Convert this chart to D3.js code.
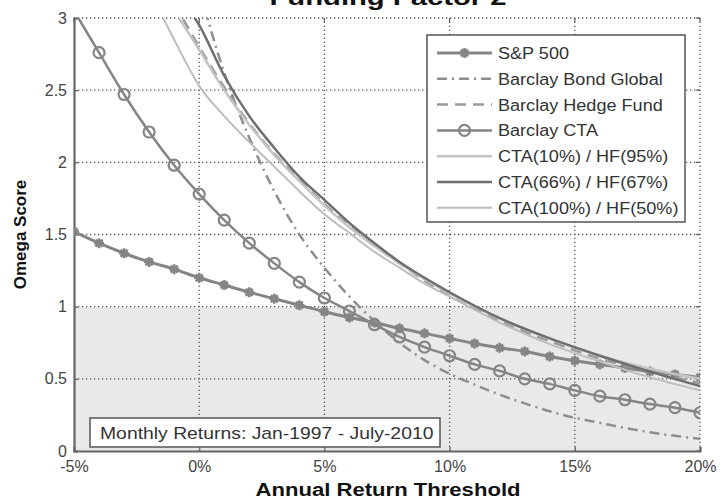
<!DOCTYPE html>
<html>
<head>
<meta charset="utf-8">
<script src="https://d3js.org/d3.v7.min.js"></script>
<style>
body { margin: 0; background: #fff; }
svg { display: block; font-family: 'Liberation Sans', Arial, sans-serif; }
</style>
</head>
<body>
<svg></svg>
<script>
// thresholds in percent
const stepX = [-5,-4,-3,-2,-1,0,1,2,3,4,5,6,7,8,9,10,11,12,13,14,15,16,17,18,19,20];
const sp500 = [1.52,1.44,1.37,1.31,1.26,1.20,1.15,1.10,1.055,1.01,0.965,0.925,0.89,0.85,0.815,0.78,0.745,0.715,0.69,0.655,0.625,0.60,0.575,0.55,0.53,0.51];
const cta = [3.05,2.76,2.47,2.21,1.98,1.78,1.60,1.44,1.30,1.17,1.06,0.97,0.875,0.79,0.72,0.66,0.60,0.555,0.50,0.465,0.42,0.38,0.355,0.325,0.30,0.265];

const bondX = [0,1,2,3,4,5,6,7,8,9,10,11,12,13,14,15,16,17,18,19,20];
const bond = [3.2,2.62,2.17,1.8,1.5,1.27,1.07,0.9,0.75,0.63,0.535,0.46,0.39,0.33,0.275,0.23,0.195,0.16,0.13,0.105,0.085];

const mixX = [-1,0,1,2,3,4,5,6,7,8,9,10,12,14,16,18,20];
const hedge = [3.1,2.8,2.52,2.27,2.06,1.88,1.71,1.56,1.42,1.3,1.18,1.08,0.9,0.76,0.64,0.55,0.47];
const cta10hf95 = [3.05,2.78,2.5,2.26,2.05,1.87,1.7,1.55,1.42,1.3,1.19,1.09,0.92,0.78,0.66,0.57,0.50];
const cta66hf67 = [3.2,2.95,2.6,2.32,2.1,1.9,1.74,1.58,1.44,1.31,1.2,1.1,0.92,0.78,0.66,0.55,0.45];

const wideX = [-2,-1,0,1,2,3,4,5,6,7,8,9,10,12,14,16,18,20];
const cta100hf50 = [3.2,2.85,2.53,2.32,2.14,1.97,1.8,1.64,1.51,1.38,1.27,1.16,1.07,0.89,0.74,0.62,0.51,0.42];

const xTicks = [-5,0,5,10,15,20];
const yTicks = [0,0.5,1,1.5,2,2.5,3];

const legendNames = ["S&P 500","Barclay Bond Global","Barclay Hedge Fund","Barclay CTA",
  "CTA(10%) / HF(95%)","CTA(66%) / HF(67%)","CTA(100%) / HF(50%)"];

const W = 720, H = 501;
const m = {left: 74, right: 20, top: 18, bottom: 50};

const svg = d3.select("svg").attr("width", W).attr("height", H);

const x = d3.scaleLinear().domain([-5, 20]).range([m.left, W - m.right]);
const y = d3.scaleLinear().domain([0, 3]).range([H - m.bottom, m.top]);

const series = [
  {name: legendNames[0], xs: stepX, ys: sp500, color: "#858585", width: 3, marker: "star"},
  {name: legendNames[1], xs: bondX, ys: bond, color: "#8e8e8e", width: 2.5, dash: "10,5,2,5"},
  {name: legendNames[2], xs: mixX, ys: hedge, color: "#9a9a9a", width: 2.5, dash: "11,7"},
  {name: legendNames[3], xs: stepX, ys: cta, color: "#858585", width: 2.5, marker: "circle"},
  {name: legendNames[4], xs: mixX, ys: cta10hf95, color: "#c4c4c4", width: 2.5},
  {name: legendNames[5], xs: mixX, ys: cta66hf67, color: "#6e6e6e", width: 2.5},
  {name: legendNames[6], xs: wideX, ys: cta100hf50, color: "#bdbdbd", width: 2}
];

svg.append("defs").append("clipPath").attr("id", "plot")
  .append("rect").attr("x", x(-5)).attr("y", y(3))
  .attr("width", x(20) - x(-5)).attr("height", y(0) - y(3));

// shaded region for omega < 1
svg.append("rect")
  .attr("x", x(-5)).attr("y", y(1))
  .attr("width", x(20) - x(-5)).attr("height", y(0) - y(1))
  .attr("fill", "#e9e9e9");

// dotted grid
const grid = svg.append("g").attr("stroke", "#555").attr("stroke-width", 1.3)
  .attr("stroke-dasharray", "1.3,2.7");
grid.selectAll(".gx").data(xTicks.slice(1)).join("line")
  .attr("x1", d => x(d)).attr("x2", d => x(d)).attr("y1", y(0)).attr("y2", y(3));
grid.selectAll(".gy").data(yTicks.slice(1)).join("line")
  .attr("y1", d => y(d)).attr("y2", d => y(d)).attr("x1", x(-5)).attr("x2", x(20));

// small inward ticks on top and right
const tk = svg.append("g").attr("stroke", "#666").attr("stroke-width", 1.3);
tk.selectAll(".tt").data(xTicks).join("line")
  .attr("x1", d => x(d)).attr("x2", d => x(d)).attr("y1", y(3)).attr("y2", y(3) + 4);
tk.selectAll(".tr").data(yTicks).join("line")
  .attr("y1", d => y(d)).attr("y2", d => y(d)).attr("x1", x(20)).attr("x2", x(20) - 4);

// axes
const xAxis = svg.append("g").attr("transform", `translate(0,${y(0)})`)
  .call(d3.axisBottom(x).tickValues(xTicks).tickSize(-4).tickPadding(10).tickFormat(d => d + "%"));
const yAxis = svg.append("g").attr("transform", `translate(${x(-5)},0)`)
  .call(d3.axisLeft(y).tickValues(yTicks).tickSize(-4).tickPadding(7).tickFormat(d3.format("")));
[xAxis, yAxis].forEach(a => {
  a.select(".domain").attr("stroke", "#666").attr("stroke-width", 2.2);
  a.selectAll(".tick line").attr("stroke", "#666").attr("stroke-width", 1.3);
  a.selectAll(".tick text").attr("fill", "#444").attr("font-size", 16)
    .attr("font-family", "'Liberation Sans', Arial, sans-serif");
});

// lines
const plot = svg.append("g").attr("clip-path", "url(#plot)");
const line = d3.line().x(d => x(d[0])).y(d => y(d[1])).curve(d3.curveMonotoneX);

const starPath = r => `M${-r},0L${r},0M0,${-r}L0,${r}M${-r*0.7},${-r*0.7}L${r*0.7},${r*0.7}M${-r*0.7},${r*0.7}L${r*0.7},${-r*0.7}`;

function marker(g, type, color) {
  if (type === "star") {
    g.append("path").attr("d", starPath(5)).attr("stroke", color).attr("stroke-width", 2.6).attr("fill", "none");
  } else if (type === "circle") {
    g.append("circle").attr("r", 5.5).attr("stroke", color).attr("stroke-width", 2.2).attr("fill", "none");
  }
}

series.forEach(s => {
  const pts = s.xs.map((v, i) => [v, s.ys[i]]);
  plot.append("path").datum(pts)
    .attr("d", line).attr("fill", "none")
    .attr("stroke", s.color).attr("stroke-width", s.width)
    .attr("stroke-dasharray", s.dash || null);
  if (s.marker) {
    plot.selectAll(null).data(pts).join("g")
      .attr("transform", d => `translate(${x(d[0])},${y(d[1])})`)
      .each(function() { marker(d3.select(this), s.marker, s.color); });
  }
});

// legend
const lg = svg.append("g").attr("transform", "translate(427,35)");
lg.append("rect").attr("width", 258).attr("height", 187)
  .attr("fill", "#fff").attr("stroke", "#555").attr("stroke-width", 1.5);
const rows = lg.selectAll(".row").data(series).join("g")
  .attr("transform", (d, i) => `translate(0,${18 + i * 25.8})`);
rows.append("line").attr("x1", 10).attr("x2", 65).attr("y1", 0).attr("y2", 0)
  .attr("stroke", d => d.color).attr("stroke-width", d => d.width)
  .attr("stroke-dasharray", d => d.dash || null);
rows.each(function(d) {
  if (d.marker) {
    const g = d3.select(this).append("g").attr("transform", "translate(37.5,0)");
    marker(g, d.marker, d.color);
  }
});
rows.append("text").attr("transform", "translate(71,6) scale(1.13,1)")
  .attr("font-size", 16).attr("fill", "#333").text(d => d.name);

// period note
const note = svg.append("g").attr("transform", "translate(90,418)");
note.append("rect").attr("width", 350).attr("height", 29)
  .attr("fill", "#fff").attr("stroke", "#555").attr("stroke-width", 1.5);
note.append("text").attr("transform", "translate(10,21) scale(1.21,1)")
  .attr("font-size", 16).attr("fill", "#333")
  .text("Monthly Returns: Jan-1997 - July-2010");

// titles
svg.append("text").attr("x", 388).attr("y", 5).attr("text-anchor", "middle")
  .attr("font-size", 22).attr("font-weight", "bold").attr("fill", "#111")
  .attr("textLength", 237).attr("lengthAdjust", "spacingAndGlyphs")
  .text("Funding Factor 2");
svg.append("text").attr("x", 388).attr("y", 496).attr("text-anchor", "middle")
  .attr("font-size", 18).attr("font-weight", "bold").attr("fill", "#111")
  .attr("textLength", 265).attr("lengthAdjust", "spacingAndGlyphs")
  .text("Annual Return Threshold");
svg.append("text").attr("transform", `translate(26,${y(1.5)}) rotate(-90)`)
  .attr("text-anchor", "middle")
  .attr("font-size", 17).attr("font-weight", "bold").attr("fill", "#111")
  .text("Omega Score");
</script>
</body>
</html>
